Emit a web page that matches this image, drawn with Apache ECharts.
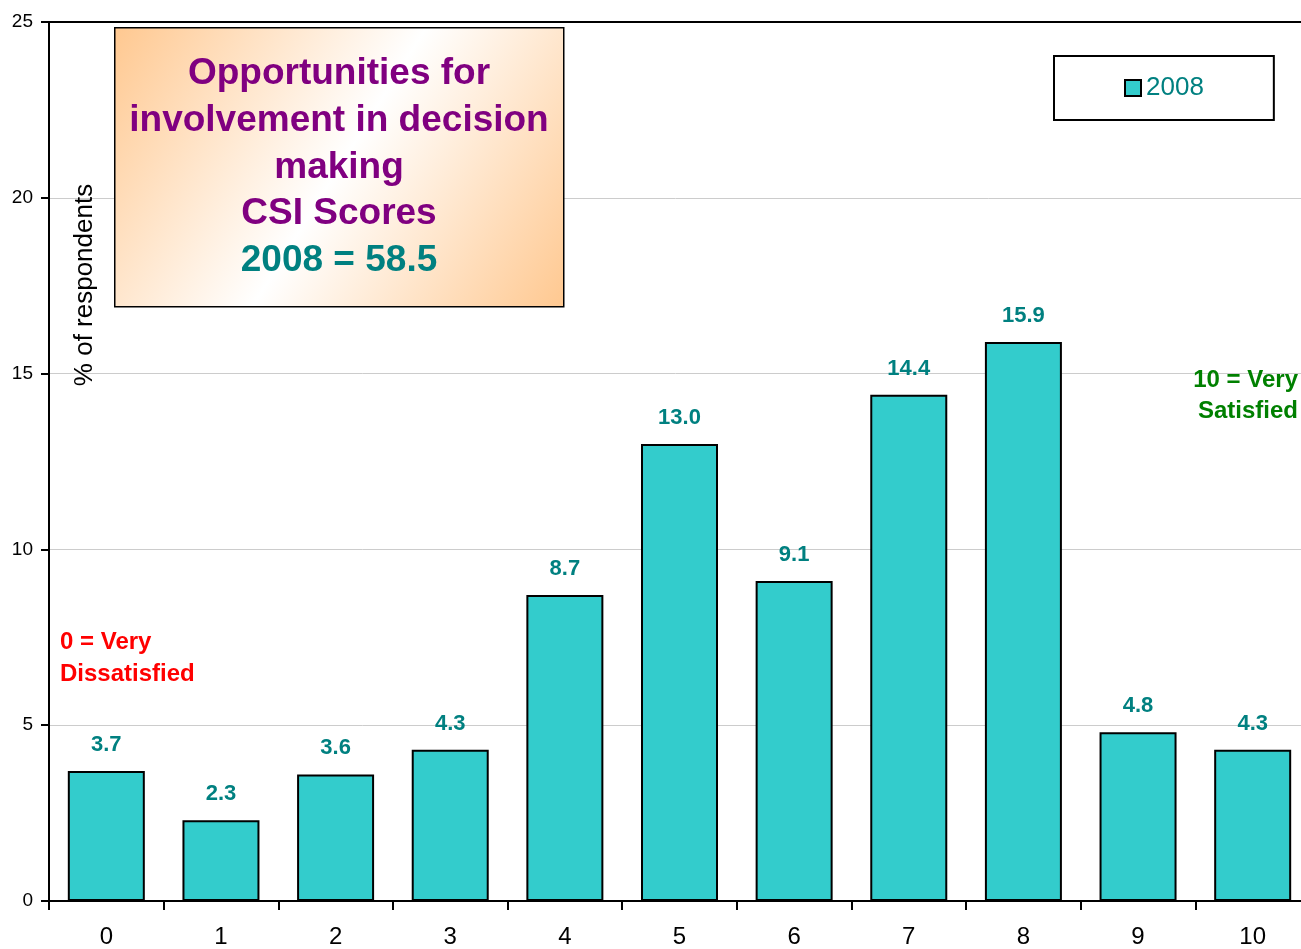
<!DOCTYPE html>
<html>
<head>
<meta charset="utf-8">
<script src="https://cdn.jsdelivr.net/npm/echarts@6/dist/echarts.min.js"></script>
<style>
html,body{margin:0;padding:0;background:#fff;}
#chart{width:1301px;height:949px;}
</style>
</head>
<body>
<div id="chart"></div>
<script>
var categories = ['0','1','2','3','4','5','6','7','8','9','10'];
var values2008 = [3.7, 2.3, 3.6, 4.3, 8.7, 13.0, 9.1, 14.4, 15.9, 4.8, 4.3];
var seriesName = '2008';
var yTicks = {min: 0, max: 25, interval: 5};
var titleLines = ['Opportunities for', 'involvement in decision', 'making', 'CSI Scores'];
var scoreLine = '2008 = 58.5';
var lowLabel = ['0 = Very', 'Dissatisfied'];
var highLabel = ['10 = Very', 'Satisfied'];
var yName = '% of respondents';

var FONT = 'Arial, "Liberation Sans", sans-serif';
var chart = echarts.init(document.getElementById('chart'), null, {renderer: 'canvas'});

var graphics = [];
// title box
graphics.push({
  type: 'rect', left: 114, top: 27, z: 10,
  shape: {width: 449, height: 279},
  style: {
    fill: new echarts.graphic.LinearGradient(0, 0, 1, 1, [
      {offset: 0, color: '#FFC890'},
      {offset: 0.5, color: '#FFFFFF'},
      {offset: 1, color: '#FFC890'}
    ]),
    stroke: '#000', lineWidth: 1.5
  }
});
var lineYs = [74, 121, 168, 214];
titleLines.forEach(function (t, i) {
  graphics.push({
    type: 'text', x: 339, y: lineYs[i], z: 11,
    style: {text: t, fill: '#800080', font: 'bold 37px ' + FONT, align: 'center', verticalAlign: 'middle'}
  });
});
graphics.push({
  type: 'text', x: 339, y: 261, z: 11,
  style: {text: scoreLine, fill: '#008080', font: 'bold 37px ' + FONT, align: 'center', verticalAlign: 'middle'}
});
// y axis name
graphics.push({
  type: 'text', x: 85, y: 285, rotation: Math.PI / 2, z: 11,
  style: {text: yName, fill: '#000', font: '26px ' + FONT, align: 'center', verticalAlign: 'middle'}
});
// low / high annotations
graphics.push({
  type: 'text', x: 60, y: 642, z: 11,
  style: {text: lowLabel[0], fill: '#FF0000', font: 'bold 24px ' + FONT, align: 'left', verticalAlign: 'middle'}
});
graphics.push({
  type: 'text', x: 60, y: 674, z: 11,
  style: {text: lowLabel[1], fill: '#FF0000', font: 'bold 24px ' + FONT, align: 'left', verticalAlign: 'middle'}
});
graphics.push({
  type: 'text', x: 1298, y: 380, z: 11,
  style: {text: highLabel[0], fill: '#008000', font: 'bold 24px ' + FONT, align: 'right', verticalAlign: 'middle'}
});
graphics.push({
  type: 'text', x: 1298, y: 411, z: 11,
  style: {text: highLabel[1], fill: '#008000', font: 'bold 24px ' + FONT, align: 'right', verticalAlign: 'middle'}
});

chart.setOption({
  animation: false,
  backgroundColor: '#fff',
  grid: {left: 49, width: 1261, top: 22, bottom: 48, containLabel: false, outerBoundsMode: 'none'},
  legend: {
    left: 1054, top: 56,
    padding: [19, 70, 19, 70],
    borderColor: '#000', borderWidth: 2,
    backgroundColor: '#fff',
    icon: 'rect', itemWidth: 16, itemHeight: 16,
    itemStyle: {borderColor: '#000', borderWidth: 2},
    textStyle: {color: '#008080', fontSize: 26, fontFamily: FONT},
    data: [seriesName]
  },
  xAxis: [{
    type: 'category',
    data: categories,
    boundaryGap: true,
    axisLine: {lineStyle: {color: '#000', width: 2}},
    axisTick: {show: true, alignWithLabel: false, length: 9, lineStyle: {color: '#000', width: 2}},
    axisLabel: {color: '#000', fontSize: 24, fontFamily: FONT, margin: 24},
    splitLine: {show: false}
  }, {
    type: 'category',
    position: 'top',
    data: categories,
    axisLine: {lineStyle: {color: '#000', width: 2}},
    axisTick: {show: false},
    axisLabel: {show: false},
    splitLine: {show: false}
  }],
  yAxis: {
    type: 'value',
    min: yTicks.min, max: yTicks.max, interval: yTicks.interval,
    axisLine: {show: true, lineStyle: {color: '#000', width: 2}},
    axisTick: {show: true, length: 8, lineStyle: {color: '#000', width: 2}},
    axisLabel: {color: '#000', fontSize: 19, fontFamily: FONT, margin: 16},
    splitLine: {show: true, lineStyle: {color: '#CCCCCC', width: 1}}
  },
  series: [{
    name: seriesName,
    type: 'bar',
    xAxisIndex: 0,
    data: values2008,
    barWidth: 77,
    itemStyle: {color: '#33CCCC', borderColor: '#000', borderWidth: 2},
    label: {
      show: true, position: 'top', distance: 15,
      color: '#008080', fontSize: 22, fontWeight: 'bold', fontFamily: FONT,
      formatter: function (p) { return p.value.toFixed(1); }
    }
  }],
  graphic: graphics
});
</script>
</body>
</html>
